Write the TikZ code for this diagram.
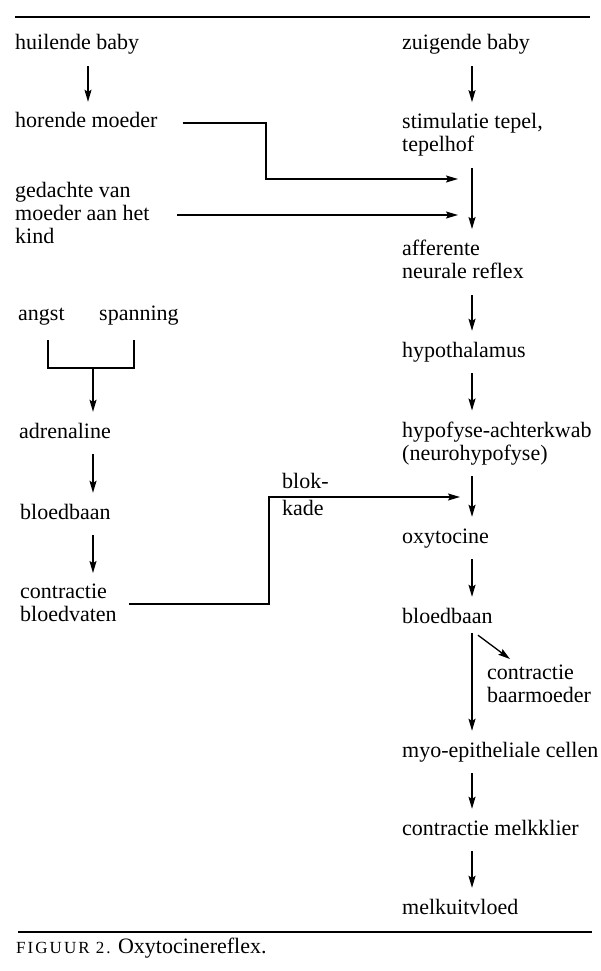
\documentclass[tikz,border=0pt]{standalone}
\usepackage{fontspec}
\setmainfont{Liberation Serif}
\usepackage{tikz}
\usetikzlibrary{arrows.meta,calc}
\tikzstyle{mylabel} = [anchor=west, inner sep=0pt, align=left,
    font=\fontsize{22}{23}\selectfont, text depth=5pt]
\tikzstyle{myone} = [mylabel, text height=15pt]
\tikzstyle{myline} = [draw=black, line width=1.3pt]
\tikzstyle{myarrow} = [myline, -{Stealth[length=12pt,width=7pt,inset=2pt]},
    shorten <=11pt, shorten >=11pt]
\tikzstyle{myrule} = [draw=black, line width=1.2pt]

\begin{document}
\begin{tikzpicture}[x=1pt,y=-1pt]
    \useasboundingbox (0,0) rectangle (600,971);
    \draw[myrule] (15,17) -- (590,17);
    \draw[myrule] (18,932) -- (592,932);

    \coordinate (rx) at (472,0);
    \coordinate (lx1) at (88,0);
    \coordinate (lx) at (93,0);
    \coordinate (in1) at (458,179);
    \coordinate (in2) at (458,215);
    \coordinate (in3) at (460,497);
    \coordinate (kn1) at (266,179);
    \coordinate (kn3) at (269,604);
    \coordinate (kn4) at (269,497);
    \coordinate (hl) at (48,368);
    \coordinate (hr) at (134,368);
    \coordinate (hm) at (93,368);

    \node[myone] (zuig) at (402,45) {zuigende baby};
    \node[mylabel] (stim) at (402,135) {stimulatie tepel,\\tepelhof};
    \node[mylabel] (affer) at (402,262) {afferente\\neurale reflex};
    \node[myone] (hypoth) at (402,352) {hypothalamus};
    \node[mylabel] (hypof) at (402,443.5) {hypofyse-achterkwab\\(neurohypofyse)};
    \node[myone] (oxy) at (402,538) {oxytocine};
    \node[myone] (rbloed) at (402,618) {bloedbaan};
    \node[mylabel] (baarm) at (487,686.5) {contractie\\baarmoeder};
    \node[myone] (myo) at (402,752) {myo-epitheliale cellen};
    \node[myone] (melkkl) at (402,830) {contractie melkklier};
    \node[myone] (uitvl) at (402,909) {melkuitvloed};

    \node[myone] (huilend) at (15,45) {huilende baby};
    \node[myone] (horend) at (15,123) {horende moeder};
    \node[mylabel] (gedacht) at (15,215) {gedachte van\\moeder aan het\\kind};
    \node[myone] (angst) at (18,315) {angst};
    \node[myone] (spann) at (99,315) {spanning};
    \node[myone] (adren) at (19,433) {adrenaline};
    \node[myone] (lbloed) at (20,514) {bloedbaan};
    \node[mylabel] (contr) at (20,605.5) {contractie\\bloedvaten};
    \node[myone] (blok) at (282,483) {blok-};
    \node[myone] (kade) at (282,510) {kade};

    \node[myone] (caption) at (16,948) {{\fontsize{17}{17}\selectfont\addfontfeature{LetterSpace=12}FIGUUR 2.} Oxytocinereflex.};

    \draw[myarrow] (zuig.south -| rx) -- (stim.north -| rx);
    \draw[myarrow] (stim.south -| rx) -- (affer.north -| rx);
    \draw[myarrow] (affer.south -| rx) -- (hypoth.north -| rx);
    \draw[myarrow] (hypoth.south -| rx) -- (hypof.north -| rx);
    \draw[myarrow] (hypof.south -| rx) -- (oxy.north -| rx);
    \draw[myarrow] (oxy.south -| rx) -- (rbloed.north -| rx);
    \draw[myarrow, shorten <=5pt] (rbloed.south -| rx) -- (myo.north -| rx);
    \draw[myarrow, shorten <=0pt, shorten >=0pt] ($(rbloed.south -| rx)+(6,7)$) -- ($(baarm.north west)+(23,-6)$);
    \draw[myarrow] (myo.south -| rx) -- (melkkl.north -| rx);
    \draw[myarrow] (melkkl.south -| rx) -- (uitvl.north -| rx);

    \draw[myarrow] (huilend.south -| lx1) -- (horend.north -| lx1);
    \draw[myarrow, shorten <=25pt, shorten >=0pt] (horend.east) -| (kn1) -- (in1);
    \draw[myarrow, shorten <=27pt, shorten >=0pt] (gedacht.east |- in2) -- (in2);
    \draw[myline, shorten <=15pt, shorten >=15pt] (angst.south -| hl) -- (hl) -- (hr) -- (spann.south -| hr);
    \draw[myarrow, shorten <=0pt] (hm) -- (adren.north -| hm);
    \draw[myarrow] (adren.south -| lx) -- (lbloed.north -| lx);
    \draw[myarrow] (lbloed.south -| lx) -- (contr.north -| lx);
    \draw[myarrow, shorten <=12pt, shorten >=0pt] (contr.east |- kn3) -- (kn3) -- (kn4) -- (in3);
\end{tikzpicture}
\end{document}
